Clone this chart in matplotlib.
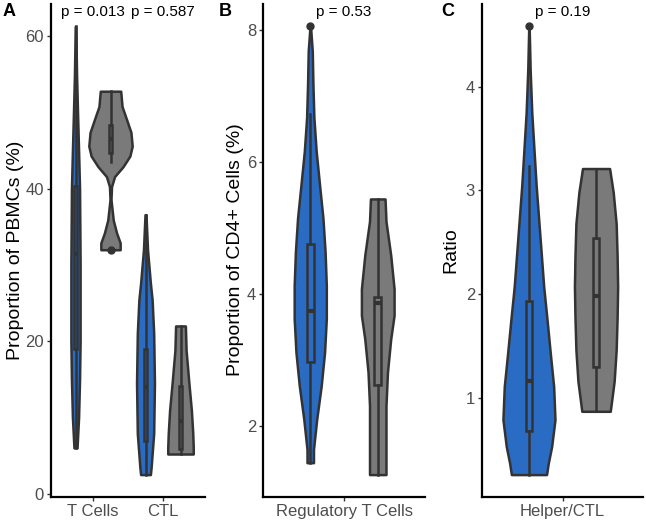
import numpy as np
import matplotlib
matplotlib.use("Agg")
import matplotlib.pyplot as plt

plt.rcParams['font.family'] = ['Liberation Sans', 'DejaVu Sans']

BLUE = '#2a6cc4'
GREY = '#7a7a7a'
EDGE = '#333333'

# ---- Panel A: proportion of PBMCs (%) ----
a_categories = ['T Cells', 'CTL']
a_pvalues = ['p = 0.013', 'p = 0.587']

# violin outlines: y values and half widths (x units)
a_tcell_blue_y = [6, 10, 15, 20, 30, 40, 45, 50, 55, 61.3]
a_tcell_blue_w = [0.022, 0.044, 0.058, 0.066, 0.066, 0.058, 0.044, 0.029, 0.015, 0.004]
a_tcell_grey_y = [32.0, 32.9, 34.2, 35.9, 38.6, 40.3, 41.6, 42.9, 44.3, 45.6, 47.4, 49.1, 50.8, 52.8]
a_tcell_grey_w = [0.138, 0.138, 0.087, 0.039, 0.007, 0.015, 0.058, 0.179, 0.277, 0.310,
                  0.292, 0.229, 0.165, 0.146]
a_ctl_blue_y = [2.5, 3.4, 7.9, 14.5, 21.0, 25.4, 27.6, 32.0, 36.6]
a_ctl_blue_w = [0.070, 0.080, 0.117, 0.128, 0.117, 0.095, 0.070, 0.029, 0.007]
a_ctl_grey_y = [5.2, 6.1, 7.9, 10.9, 14.5, 18.8, 22.0]
a_ctl_grey_w = [0.182, 0.182, 0.175, 0.156, 0.120, 0.080, 0.070]

# box stats: whislo, q1, med, q3, whishi, outliers
a_tcell_blue_box = [6, 19.0, 31.5, 40.4, 61.3, []]
a_tcell_grey_box = [43.5, 44.7, 46.5, 48.4, 52.8, [32.0]]
a_ctl_blue_box = [2.5, 6.9, 14.0, 19.0, 36.6, []]
a_ctl_grey_box = [5.2, 5.9, 9.5, 14.1, 22.0, []]

# ---- Panel B: regulatory T cells ----
b_categories = ['Regulatory T Cells']
b_pvalues = ['p = 0.53']
b_blue_y = [1.45, 1.65, 2.11, 2.61, 3.12, 3.63, 4.13, 4.64, 5.15, 5.65, 6.16, 6.67, 7.17, 7.68, 8.05]
b_blue_w = [0.024, 0.024, 0.048, 0.081, 0.106, 0.119, 0.119, 0.110, 0.094, 0.069,
            0.044, 0.027, 0.020, 0.015, 0.002]
b_grey_y = [1.27, 1.80, 2.31, 2.82, 3.32, 3.68, 4.08, 4.59, 5.10, 5.44]
b_grey_w = [0.061, 0.061, 0.061, 0.072, 0.096, 0.121, 0.121, 0.096, 0.061, 0.054]
b_blue_box = [1.45, 2.98, 3.74, 4.76, 6.72, [8.05]]
b_grey_box = [1.27, 2.63, 3.86, 3.95, 5.44, []]

# ---- Panel C: helper/CTL ratio ----
c_categories = ['Helper/CTL']
c_pvalues = ['p = 0.19']
c_blue_y = [0.26, 0.37, 0.53, 0.79, 1.11, 1.43, 1.75, 2.07, 2.40, 2.71, 3.04, 3.36, 3.75, 4.16, 4.58]
c_blue_w = [0.131, 0.144, 0.169, 0.194, 0.184, 0.159, 0.135, 0.110, 0.091, 0.073,
            0.054, 0.039, 0.021, 0.009, 0.0015]
c_grey_y = [0.87, 0.98, 1.16, 1.46, 1.77, 2.07, 2.37, 2.68, 2.98, 3.21]
c_grey_w = [0.106, 0.117, 0.135, 0.150, 0.157, 0.161, 0.157, 0.150, 0.128, 0.101]
c_blue_box = [0.26, 0.68, 1.16, 1.93, 3.23, [4.58]]
c_grey_box = [0.87, 1.30, 1.98, 2.54, 3.21, []]

DODGE = 0.25


def draw_violin(ax, center, ys, ws, color, box):
    ys = np.asarray(ys)
    ws = np.asarray(ws)
    ax.fill_betweenx(ys, center - ws, center + ws, facecolor=color,
                     edgecolor=EDGE, linewidth=1.8, joinstyle='round', zorder=2)
    lo, q1, med, q3, hi, fl = box
    stats = [{'whislo': lo, 'q1': q1, 'med': med, 'q3': q3, 'whishi': hi, 'fliers': fl}]
    ax.bxp(stats, positions=[center], widths=0.05, showcaps=False, patch_artist=True,
           manage_ticks=False,
           boxprops=dict(facecolor='none', edgecolor=EDGE, linewidth=1.8),
           whiskerprops=dict(color=EDGE, linewidth=1.8),
           medianprops=dict(color=EDGE, linewidth=3.0, solid_capstyle='butt'),
           flierprops=dict(marker='o', markersize=5, markerfacecolor=EDGE,
                           markeredgecolor=EDGE))


def style_axis(ax, categories, yticks, ymin, ymax, pvalues, ylabel_x, ylabel):
    ncat = len(categories)
    ax.set_xlim(0.4, ncat + 0.6)
    rng = ymax - ymin
    ax.set_ylim(ymin - 0.05 * rng, ymax + 0.05 * rng)
    ax.set_xticks(range(1, ncat + 1))
    ax.set_xticklabels(categories)
    ax.set_yticks(yticks)
    for s in ['top', 'right']:
        ax.spines[s].set_visible(False)
    for s in ['left', 'bottom']:
        ax.spines[s].set_linewidth(1.6)
        ax.spines[s].set_color('black')
    ax.tick_params(axis='both', length=3, width=1.0, color=EDGE, labelcolor='#4d4d4d',
                   labelsize=12, pad=2)
    for i, p in enumerate(pvalues):
        ax.text(i + 1, 0.983, p, transform=ax.get_xaxis_transform(), ha='center',
                va='center', fontsize=11, color='black')
    fig.text(ylabel_x / 646, (525 - 250) / 525, ylabel, rotation=90, ha='center',
             va='center', fontsize=14, color='black')


fig = plt.figure(figsize=(6.46, 5.25), dpi=100)
bottom = 28 / 525
height = 493 / 525
axA = fig.add_axes([51 / 646, bottom, 154 / 646, height])
axB = fig.add_axes([263 / 646, bottom, 162 / 646, height])
axC = fig.add_axes([482 / 646, bottom, 161 / 646, height])

draw_violin(axA, 1 - DODGE, a_tcell_blue_y, a_tcell_blue_w, BLUE, a_tcell_blue_box)
draw_violin(axA, 1 + DODGE, a_tcell_grey_y, a_tcell_grey_w, GREY, a_tcell_grey_box)
draw_violin(axA, 2 - DODGE, a_ctl_blue_y, a_ctl_blue_w, BLUE, a_ctl_blue_box)
draw_violin(axA, 2 + DODGE, a_ctl_grey_y, a_ctl_grey_w, GREY, a_ctl_grey_box)
a_all = a_tcell_blue_y + a_tcell_grey_y + a_ctl_blue_y + a_ctl_grey_y
style_axis(axA, a_categories, [0, 20, 40, 60], min(a_all), max(a_all), a_pvalues,
           16, 'Proportion of PBMCs (%)')

draw_violin(axB, 1 - DODGE, b_blue_y, b_blue_w, BLUE, b_blue_box)
draw_violin(axB, 1 + DODGE, b_grey_y, b_grey_w, GREY, b_grey_box)
b_all = b_blue_y + b_grey_y
style_axis(axB, b_categories, [2, 4, 6, 8], min(b_all), max(b_all), b_pvalues,
           235, 'Proportion of CD4+ Cells (%)')

draw_violin(axC, 1 - DODGE, c_blue_y, c_blue_w, BLUE, c_blue_box)
draw_violin(axC, 1 + DODGE, c_grey_y, c_grey_w, GREY, c_grey_box)
c_all = c_blue_y + c_grey_y
style_axis(axC, c_categories, [1, 2, 3, 4], min(c_all), max(c_all), c_pvalues,
           451, 'Ratio')

for letter, xpx in [('A', 3), ('B', 219), ('C', 441)]:
    fig.text(xpx / 646, 1 - 12 / 525, letter, ha='left', va='center', fontsize=13,
             fontweight='bold')

fig.savefig('out.png', dpi=100)
